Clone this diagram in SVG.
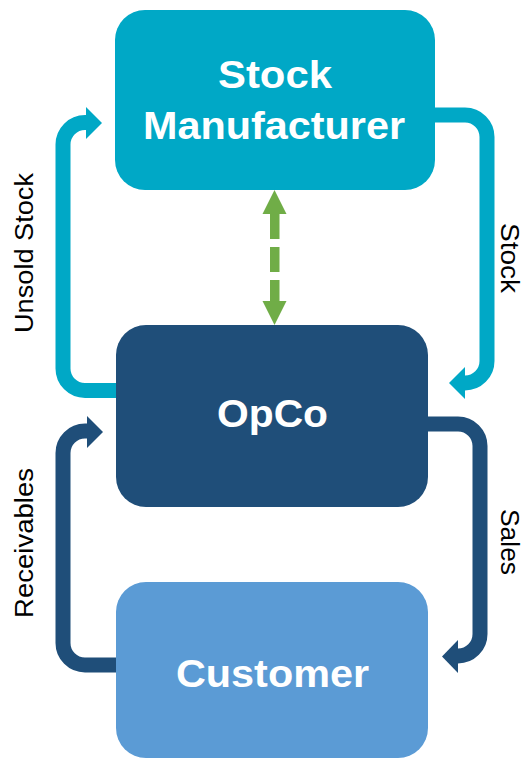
<svg xmlns="http://www.w3.org/2000/svg" width="526" height="760" viewBox="0 0 526 760">
<style>
.title{font-family:"Liberation Sans",Arial,sans-serif;font-weight:bold;fill:#fff;text-anchor:middle}
.lbl{font-family:"Liberation Sans",Arial,sans-serif;font-size:26px;fill:#000;text-anchor:middle}
.cy{fill:none;stroke:#00A8C6;stroke-width:15}
.nv{fill:none;stroke:#1F4E79;stroke-width:15}
</style>
<rect width="526" height="760" fill="#fff"/>
<g id="connectors">
  <g id="unsold-stock">
    <path class="cy" d="M120,390.5 H85 A22,22 0 0 1 63,368.5 V144.5 A22,22 0 0 1 85,122.5 H88"/>
    <polygon points="86,107 102,123 86,139" fill="#00A8C6"/>
  </g>
  <g id="stock">
    <path class="cy" d="M430,115 H465 A22,22 0 0 1 487,137 V361 A22,22 0 0 1 465,383 H463"/>
    <polygon points="465,367 449,383 465,399" fill="#00A8C6"/>
  </g>
  <g id="sales">
    <path class="nv" d="M424,424 H458 A22,22 0 0 1 480,446 V634 A22,22 0 0 1 458,656 H456"/>
    <polygon points="458,640 442,656.5 458,673" fill="#1F4E79"/>
  </g>
  <g id="receivables">
    <path class="nv" d="M120,665 H85 A22,22 0 0 1 63,643 V453 A22,22 0 0 1 85,431 H89"/>
    <polygon points="87,416 103,432 87,448" fill="#1F4E79"/>
  </g>
  <g id="link" fill="#70AD47">
    <polygon points="274.5,190 286.5,214 262.5,214"/>
    <rect x="270" y="213" width="9.5" height="26"/>
    <rect x="270" y="247" width="9.5" height="25"/>
    <rect x="270" y="280" width="9.5" height="22"/>
    <polygon points="262.5,301 286.5,301 274.5,325"/>
  </g>
  <text class="lbl" transform="translate(33,253) rotate(-90)" textLength="160" lengthAdjust="spacingAndGlyphs">Unsold Stock</text>
  <text class="lbl" transform="translate(33,543) rotate(-90)" textLength="150" lengthAdjust="spacingAndGlyphs">Receivables</text>
  <text class="lbl" transform="translate(501,258) rotate(90)" textLength="70" lengthAdjust="spacingAndGlyphs">Stock</text>
  <text class="lbl" transform="translate(501,542) rotate(90)" textLength="66" lengthAdjust="spacingAndGlyphs">Sales</text>
</g>
<g id="stock-manufacturer">
  <rect x="115" y="10" width="320" height="180" rx="30" fill="#00A8C6"/>
  <text class="title" x="275" y="88" font-size="39" textLength="114" lengthAdjust="spacingAndGlyphs">Stock</text>
  <text class="title" x="274" y="139" font-size="39" textLength="262" lengthAdjust="spacingAndGlyphs">Manufacturer</text>
</g>
<g id="opco">
  <rect x="116" y="325" width="312" height="182" rx="30" fill="#1F4E79"/>
  <text class="title" x="272.5" y="427" font-size="39" textLength="111" lengthAdjust="spacingAndGlyphs">OpCo</text>
</g>
<g id="customer">
  <rect x="116" y="582" width="312" height="176" rx="30" fill="#5B9BD5"/>
  <text class="title" x="272.5" y="687" font-size="39" textLength="193" lengthAdjust="spacingAndGlyphs">Customer</text>
</g>
</svg>
